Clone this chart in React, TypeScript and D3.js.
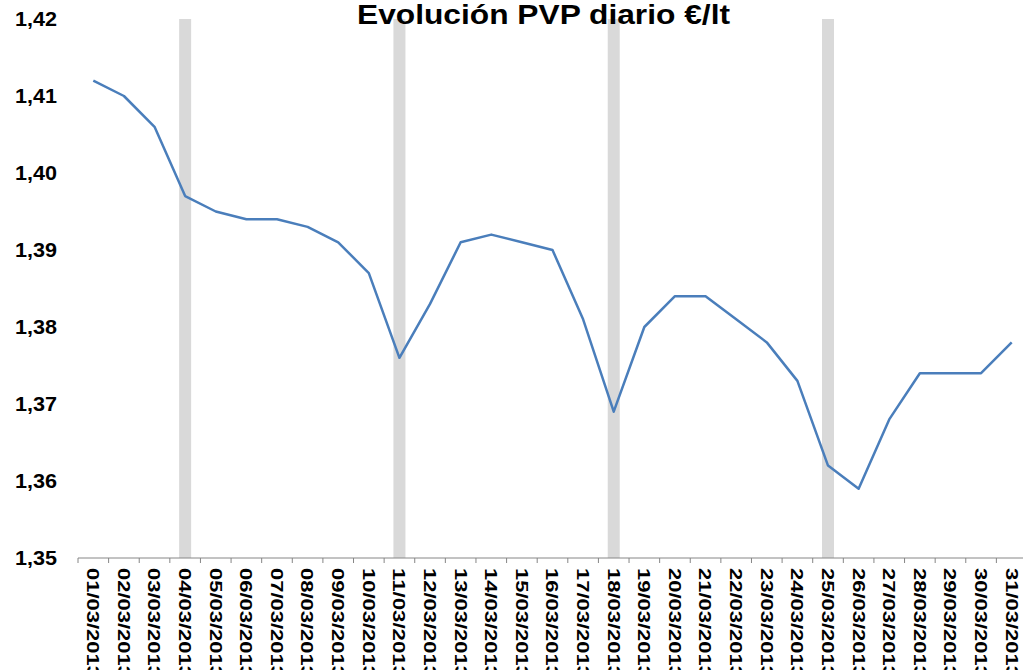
import React, { useEffect, useRef } from 'react';
import * as d3 from 'd3';

// daily dates (March 2013)
const dates = [
  '01/03/2013', '02/03/2013', '03/03/2013', '04/03/2013', '05/03/2013', '06/03/2013',
  '07/03/2013', '08/03/2013', '09/03/2013', '10/03/2013', '11/03/2013', '12/03/2013',
  '13/03/2013', '14/03/2013', '15/03/2013', '16/03/2013', '17/03/2013', '18/03/2013',
  '19/03/2013', '20/03/2013', '21/03/2013', '22/03/2013', '23/03/2013', '24/03/2013',
  '25/03/2013', '26/03/2013', '27/03/2013', '28/03/2013', '29/03/2013', '30/03/2013',
  '31/03/2013',
];

// PVP €/lt
const prices = [
  1.412, 1.410, 1.406, 1.397, 1.395, 1.394, 1.394, 1.393, 1.391, 1.387, 1.376,
  1.383, 1.391, 1.392, 1.391, 1.390, 1.381, 1.369, 1.380, 1.384, 1.384, 1.381,
  1.378, 1.373, 1.362, 1.359, 1.368, 1.374, 1.374, 1.374, 1.378,
];

// highlighted weeks (Mondays)
const markedDays = ['04/03/2013', '11/03/2013', '18/03/2013', '25/03/2013'];

const yTicks = [1.35, 1.36, 1.37, 1.38, 1.39, 1.40, 1.41, 1.42];

const FONT = 'Liberation Sans, Arial, sans-serif';

export default function App() {
  const svgRef = useRef<SVGSVGElement>(null);

  useEffect(() => {
    const W = 1023, H = 670;
    const margin = { top: 19, left: 78, bottom: 112 };
    const plotRight = 1027; // plot runs slightly past the picture edge

    const svg = d3.select(svgRef.current);
    svg.selectAll('*').remove();
    svg.attr('width', W).attr('height', H);

    const x = d3.scaleBand().domain(dates).range([margin.left, plotRight]).padding(0);
    const y = d3.scaleLinear().domain([1.35, 1.42]).range([H - margin.bottom, margin.top]);

    // gray vertical bars
    svg.append('g')
      .selectAll('rect')
      .data(markedDays)
      .join('rect')
      .attr('x', d => x(d)! + x.bandwidth() / 2 - 6)
      .attr('y', y(1.42))
      .attr('width', 12)
      .attr('height', y(1.35) - y(1.42))
      .attr('fill', '#d9d9d9');

    // y axis labels
    svg.append('g')
      .selectAll('text')
      .data(yTicks)
      .join('text')
      .attr('x', 57)
      .attr('y', d => y(d))
      .attr('dy', '0.36em')
      .attr('text-anchor', 'end')
      .attr('font-family', FONT)
      .attr('font-weight', 'bold')
      .attr('font-size', 20)
      .attr('textLength', 42)
      .attr('lengthAdjust', 'spacingAndGlyphs')
      .text(d => d3.format('.2f')(d).replace('.', ','));

    // x axis
    const xAxis = svg.append('g').attr('transform', `translate(0,${y(1.35)})`);
    xAxis.append('line')
      .attr('x1', margin.left).attr('x2', plotRight)
      .attr('stroke', '#868686').attr('stroke-width', 1);
    xAxis.selectAll('line.tick')
      .data(d3.range(dates.length + 1))
      .join('line')
      .attr('class', 'tick')
      .attr('x1', i => margin.left + i * x.step())
      .attr('x2', i => margin.left + i * x.step())
      .attr('y1', 0).attr('y2', 5)
      .attr('stroke', '#868686');
    xAxis.selectAll('text')
      .data(dates)
      .join('text')
      .attr('transform', d => `translate(${x(d)! + x.bandwidth() / 2},10) rotate(90)`)
      .attr('dy', '0.36em')
      .attr('font-family', FONT)
      .attr('font-weight', 'bold')
      .attr('font-size', 17)
      .attr('textLength', 110)
      .attr('lengthAdjust', 'spacingAndGlyphs')
      .text(d => d);

    // price line
    const line = d3.line<number>()
      .x((_, i) => x(dates[i])! + x.bandwidth() / 2)
      .y(d => y(d));

    svg.append('path')
      .datum(prices)
      .attr('fill', 'none')
      .attr('stroke', '#4a7ebb')
      .attr('stroke-width', 2.5)
      .attr('stroke-linejoin', 'round')
      .attr('d', line);

    // title
    svg.append('text')
      .attr('x', 357)
      .attr('y', 24)
      .attr('font-family', FONT)
      .attr('font-weight', 'bold')
      .attr('font-size', 28)
      .attr('textLength', 373)
      .attr('lengthAdjust', 'spacingAndGlyphs')
      .text('Evolución PVP diario €/lt');
  }, []);

  return (
    <div style={{ position: 'absolute', left: 0, top: 0, width: 1023, height: 670, overflow: 'hidden' }}>
      <svg ref={svgRef} style={{ display: 'block' }}></svg>
    </div>
  );
}
